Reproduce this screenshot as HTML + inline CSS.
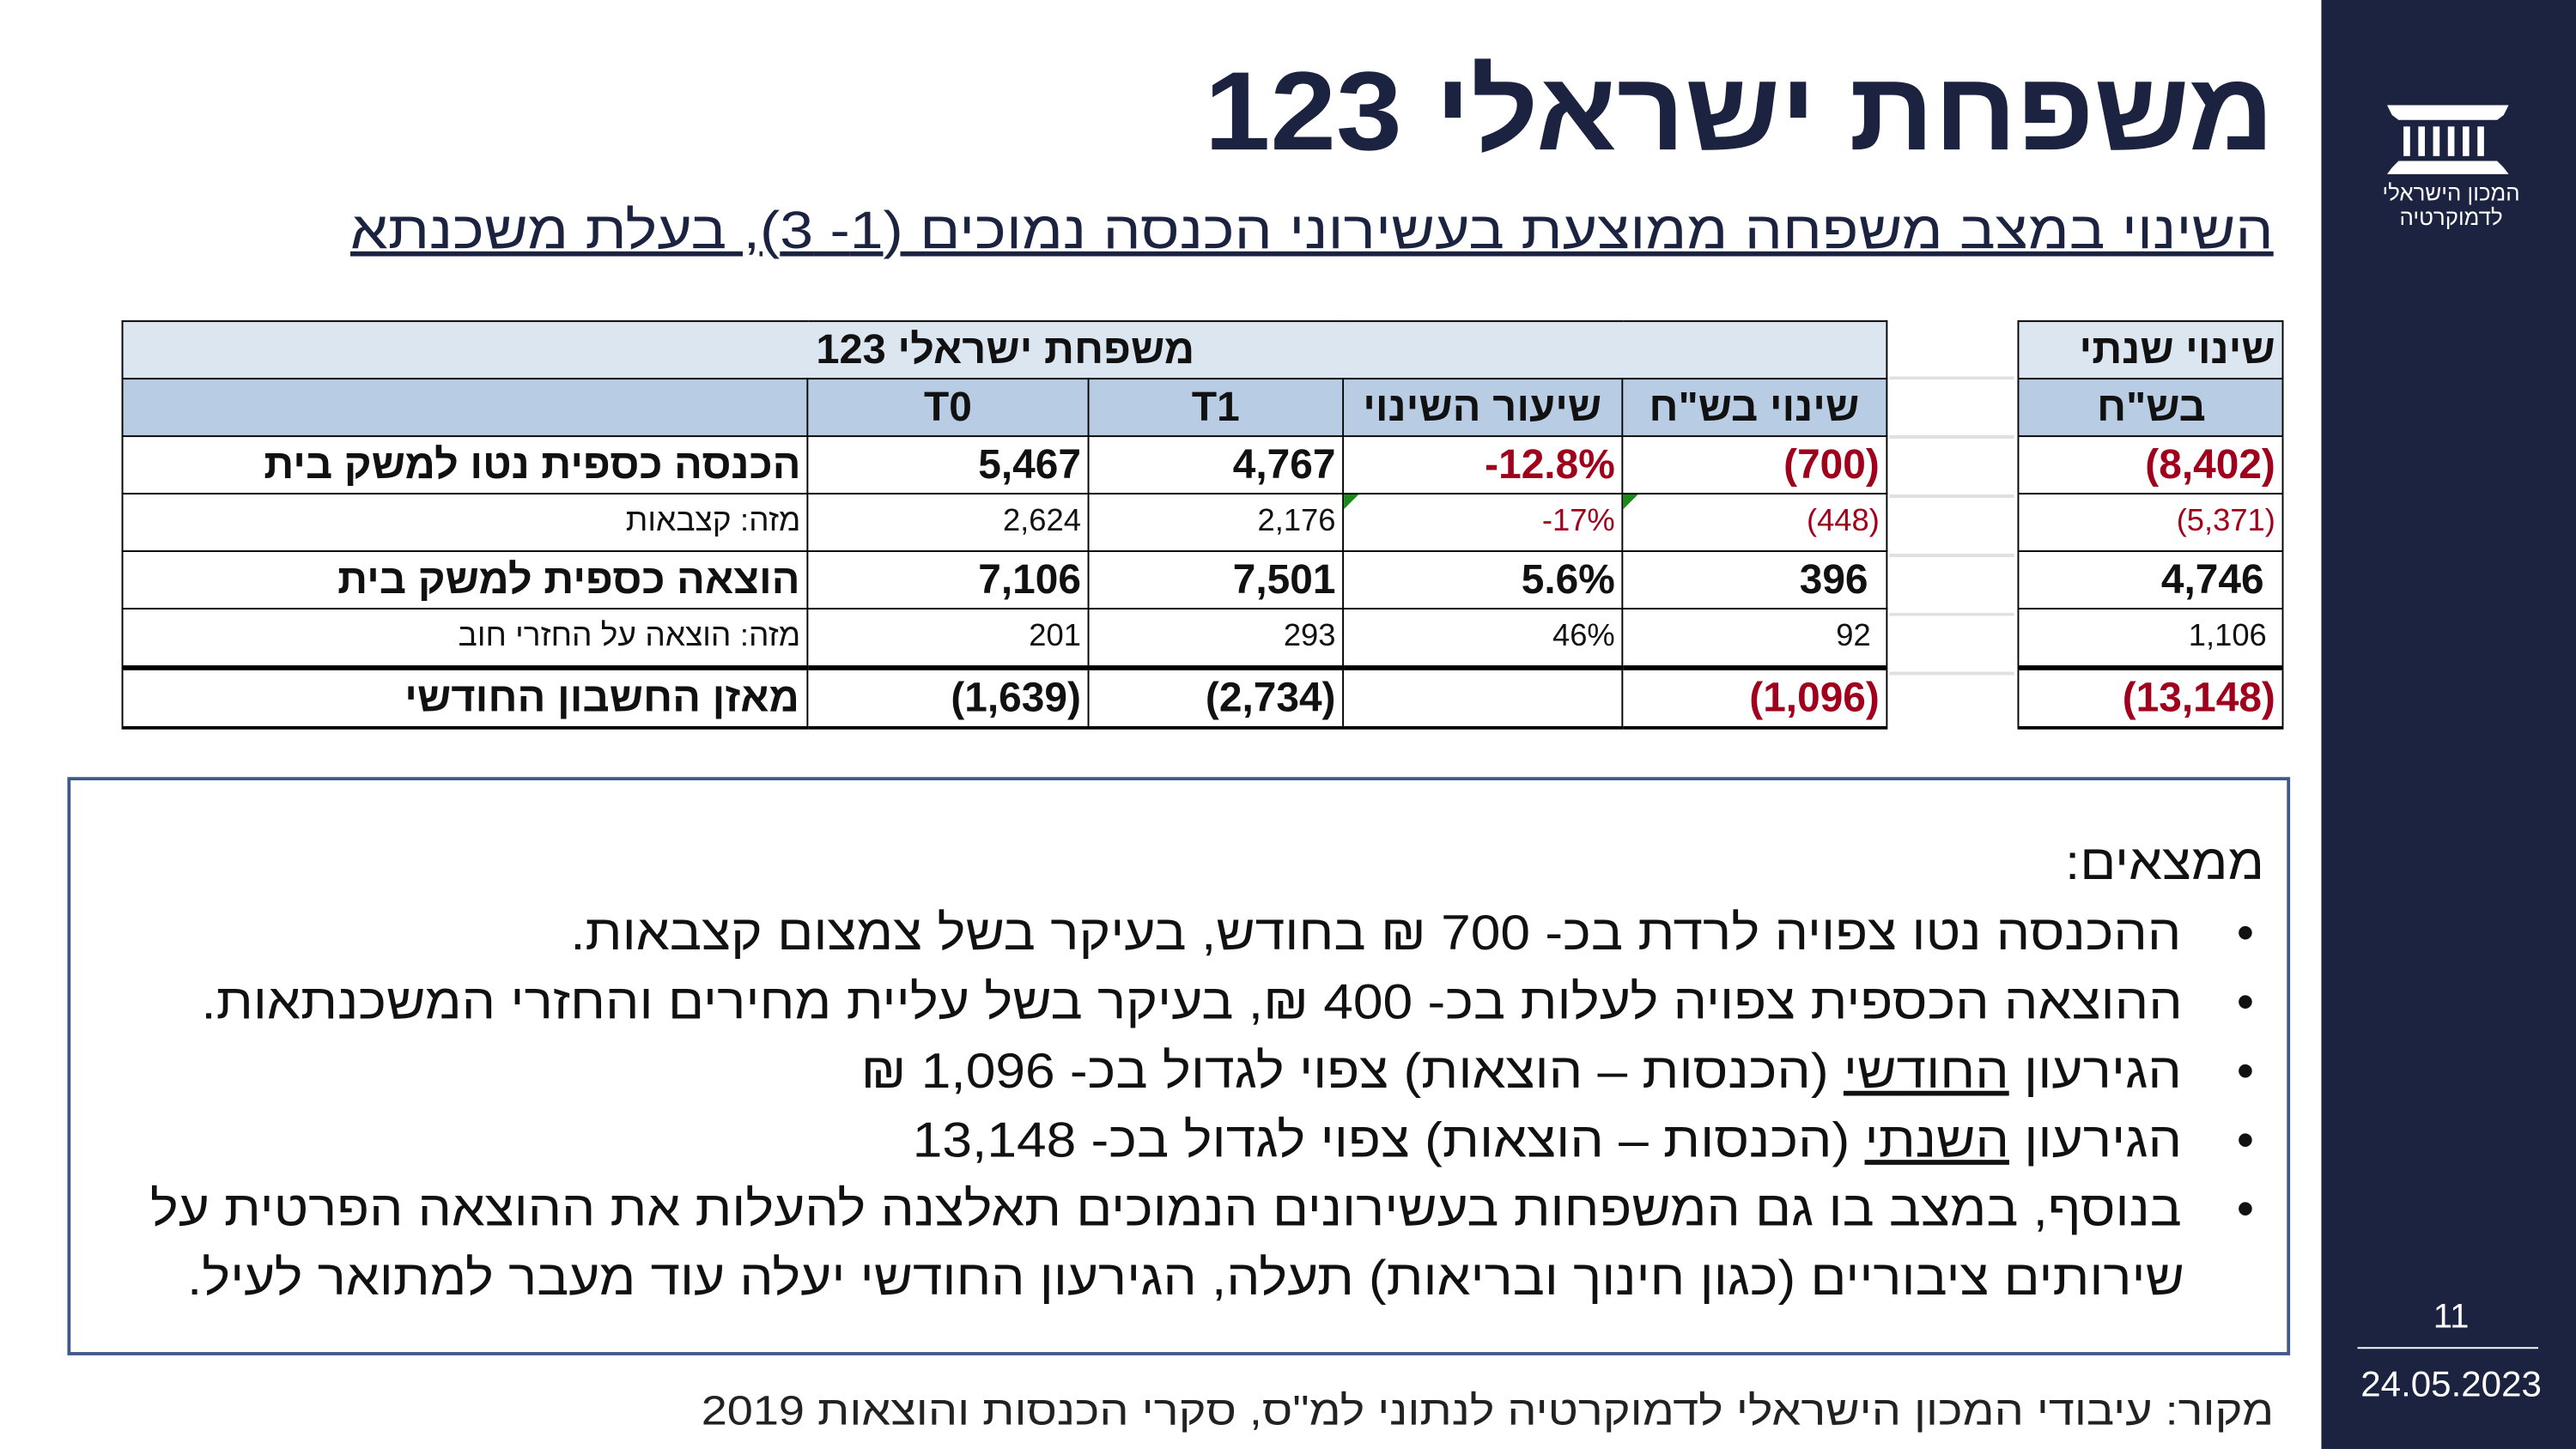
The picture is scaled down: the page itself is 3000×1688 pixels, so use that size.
<!DOCTYPE html>
<html lang="he"><head><meta charset="utf-8">
<style>
html,body{margin:0;padding:0;width:3000px;height:1688px;overflow:hidden;background:#fff}
#s{position:absolute;left:0;top:0;width:1568px;height:882px;transform:scale(1.91327,1.9138);transform-origin:0 0;font-family:"Liberation Sans","Noto Sans CJK SC",sans-serif;color:#111}
.a{position:absolute}
.r{direction:rtl;white-space:nowrap;transform-origin:100% 50%}
table{border-collapse:collapse;position:absolute;table-layout:fixed}
td{border:1.5px solid #000;padding:0 4px;height:34px;font-size:25px;font-weight:bold;text-align:right;direction:ltr;white-space:nowrap;overflow:hidden}
td.l{direction:rtl}
td.l span{display:inline-block;transform:scaleX(1.02);transform-origin:100% 50%}
td.c span{transform-origin:50% 50%}
td.sm{font-size:19px;font-weight:normal}
.red{color:#a0001c}
.h1{background:#dce6f1}
.h2{background:#b8cce4}
.c{text-align:center}
</style></head><body>
<div id="s">
<div class="a" style="left:1413px;top:0;width:155px;height:882px;background:#1b2340"></div>
<svg class="a" style="left:1450px;top:62px" width="80" height="46" viewBox="0 0 80 46">
<polygon points="3,2 77,2 74,8 6,8" fill="#fff"/><polygon points="6,8 74,8 70,11 10,11" fill="#fff"/>
<g fill="#fff"><rect x="13" y="15" width="4" height="18"/><rect x="22" y="15" width="4" height="18"/><rect x="31" y="15" width="4" height="18"/><rect x="40" y="15" width="4" height="18"/><rect x="49" y="15" width="4" height="18"/><rect x="58" y="15" width="4" height="18"/></g>
<polygon points="10,36 70,36 74,40 77,44 3,44 6,40" fill="#fff"/></svg>
<div class="a r" style="left:1440px;top:110px;width:104px;text-align:center;color:#fff;font-size:13.5px;line-height:15px">המכון הישראלי<br>לדמוקרטיה</div>
<div class="a" style="left:1440px;top:790px;width:104px;text-align:center;color:#fff;font-size:21px">11</div>
<div class="a" style="left:1435px;top:820px;width:110px;height:1px;background:#fff"></div>
<div class="a" style="left:1425px;top:830px;width:134px;text-align:center;color:#fff;font-size:22px">24.05.2023</div>

<div class="a r" style="right:184px;top:28px;font-size:68px;font-weight:bold;color:#1b2340;line-height:80px;transform:scaleX(1.06)">משפחת ישראלי 123</div>
<div class="a r" style="right:184px;top:120px;font-size:32px;color:#1b2340;text-decoration:underline;line-height:40px;transform:scaleX(1.14)">השינוי במצב משפחה ממוצעת בעשירוני הכנסה נמוכים (1- 3), בעלת משכנתא</div>

<table style="left:74px;top:195px;width:1074px">
<colgroup><col style="width:417px"><col style="width:171px"><col style="width:155px"><col style="width:170px"><col style="width:161px"></colgroup>
<tr><td colspan="5" class="h1 c l"><span>משפחת ישראלי 123</span></td></tr>
<tr><td class="h2"></td><td class="h2 c">T0</td><td class="h2 c">T1</td><td class="h2 c l"><span>שיעור השינוי</span></td><td class="h2 c l"><span>שינוי בש"ח</span></td></tr>
<tr><td class="l"><span>הכנסה כספית נטו למשק בית</span></td><td>5,467</td><td>4,767</td><td class="red">-12.8%</td><td class="red">(700)</td></tr>
<tr><td class="l sm"><span>מזה: קצבאות</span></td><td class="sm">2,624</td><td class="sm">2,176</td><td class="sm red" style="position:relative">-17%<span style="position:absolute;left:0;top:0;border-top:9px solid #1a8a1a;border-right:9px solid transparent"></span></td><td class="sm red" style="position:relative">(448)<span style="position:absolute;left:0;top:0;border-top:9px solid #1a8a1a;border-right:9px solid transparent"></span></td></tr>
<tr><td class="l"><span>הוצאה כספית למשק בית</span></td><td>7,106</td><td>7,501</td><td>5.6%</td><td>396&nbsp;</td></tr>
<tr><td class="l sm"><span>מזה: הוצאה על החזרי חוב</span></td><td class="sm">201</td><td class="sm">293</td><td class="sm">46%</td><td class="sm">92&nbsp;</td></tr>
<tr><td class="l" style="border-top:3px solid #000;border-bottom:2.5px solid #000"><span>מאזן החשבון החודשי</span></td><td style="border-top:3px solid #000;border-bottom:2.5px solid #000">(1,639)</td><td style="border-top:3px solid #000;border-bottom:2.5px solid #000">(2,734)</td><td style="border-top:3px solid #000;border-bottom:2.5px solid #000"></td><td class="red" style="border-top:3px solid #000;border-bottom:2.5px solid #000">(1,096)</td></tr>
</table>
<div class="a" style="left:1150px;top:195px;width:76px;height:249px;background:repeating-linear-gradient(#fff 0,#fff 34px,#e0e0e0 34px,#e0e0e0 36px)"></div>
<table style="left:1228px;top:195px;width:162px">
<tr><td class="h1 l"><span>שינוי שנתי</span></td></tr>
<tr><td class="h2 c l"><span>בש"ח</span></td></tr>
<tr><td class="red">(8,402)</td></tr>
<tr><td class="sm red">(5,371)</td></tr>
<tr><td>4,746&nbsp;</td></tr>
<tr><td class="sm">1,106&nbsp;</td></tr>
<tr><td class="red" style="border-top:3px solid #000;border-bottom:2.5px solid #000">(13,148)</td></tr>
</table>

<div class="a" style="left:41px;top:473px;width:1349px;height:348px;border:2px solid #3f5a8a"></div>
<div class="a r" style="right:190px;top:506px;font-size:30px;line-height:40px;transform:scaleX(1.08)">ממצאים:</div>
<div class="a r" style="right:196px;top:548px;font-size:30px;line-height:42px">
<div>•&nbsp;&nbsp;&nbsp;&nbsp;<span style="display:inline-block;transform:scaleX(1.085);transform-origin:100% 50%">ההכנסה נטו צפויה לרדת בכ- 700 ₪ בחודש, בעיקר בשל צמצום קצבאות.</span></div>
<div>•&nbsp;&nbsp;&nbsp;&nbsp;<span style="display:inline-block;transform:scaleX(1.085);transform-origin:100% 50%">ההוצאה הכספית צפויה לעלות בכ- 400 ₪, בעיקר בשל עליית מחירים והחזרי המשכנתאות.</span></div>
<div>•&nbsp;&nbsp;&nbsp;&nbsp;<span style="display:inline-block;transform:scaleX(1.085);transform-origin:100% 50%">הגירעון <u>החודשי</u> (הכנסות – הוצאות) צפוי לגדול בכ- 1,096 ₪</span></div>
<div>•&nbsp;&nbsp;&nbsp;&nbsp;<span style="display:inline-block;transform:scaleX(1.085);transform-origin:100% 50%">הגירעון <u>השנתי</u> (הכנסות – הוצאות) צפוי לגדול בכ- 13,148</span></div>
<div>•&nbsp;&nbsp;&nbsp;&nbsp;<span style="display:inline-block;transform:scaleX(1.08);transform-origin:100% 50%">בנוסף, במצב בו גם המשפחות בעשירונים הנמוכים תאלצנה להעלות את ההוצאה הפרטית על</span></div>
<div style="padding-right:42px"><span style="display:inline-block;transform:scaleX(1.08);transform-origin:100% 50%">שירותים ציבוריים (כגון חינוך ובריאות) תעלה, הגירעון החודשי יעלה עוד מעבר למתואר לעיל.</span></div>
</div>
<div class="a r" style="right:184px;top:844px;font-size:25px;line-height:30px;color:#222;transform:scaleX(1.13)">מקור: עיבודי המכון הישראלי לדמוקרטיה לנתוני למ"ס, סקרי הכנסות והוצאות 2019</div>
</div>
</body></html>
